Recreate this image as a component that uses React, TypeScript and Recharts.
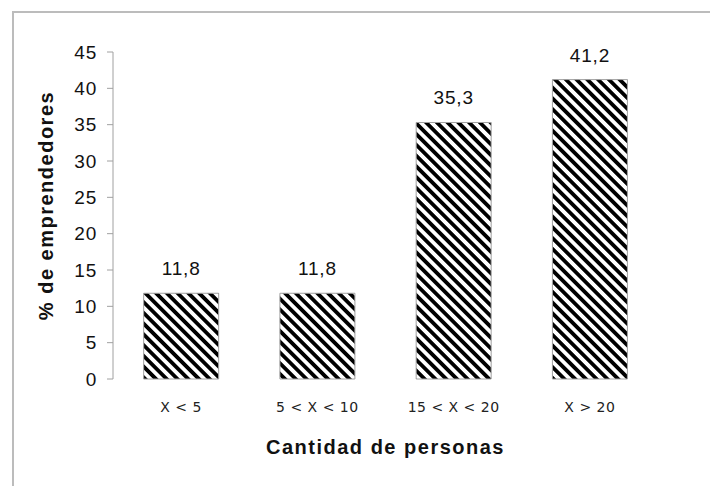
import { BarChart, Bar, XAxis, YAxis, LabelList } from 'recharts';

const categories = ['X < 5', '5 < X < 10', '15 < X < 20', 'X > 20'];
const percentages = [11.8, 11.8, 35.3, 41.2];
const yTicks = [0, 5, 10, 15, 20, 25, 30, 35, 40, 45];
const boundaryTicks = [0, 1, 2, 3, 4];

const data = categories.map((name, i) => ({ name, value: percentages[i] }));

const formatComma = (v: number) => v.toFixed(1).replace('.', ',');

export default function App() {
  return (
    <div style={{ position: 'fixed', left: 0, top: 0, width: 710, height: 486, background: '#fff' }}>
      <div
        style={{
          position: 'absolute',
          left: 12,
          top: 11,
          right: 0,
          bottom: 0,
          borderLeft: '2px solid #bcbcbc',
          borderTop: '2px solid #bcbcbc',
        }}
      />
      <div style={{ position: 'absolute', left: 0, top: 0 }}>
        <BarChart
          width={710}
          height={486}
          data={data}
          margin={{ top: 52, right: 52, left: 0, bottom: 0 }}
          barCategoryGap="22.5%"
        >
          <defs>
            <pattern id="hatch" patternUnits="userSpaceOnUse" width="7.6" height="7.6" patternTransform="rotate(-45)">
              <rect width="7.6" height="7.6" fill="#fff" />
              <rect width="3.8" height="7.6" fill="#000" />
            </pattern>
          </defs>
          <XAxis
            xAxisId="edges"
            type="number"
            domain={[0, 4]}
            ticks={boundaryTicks}
            tick={false}
            height={0}
            tickSize={5}
            axisLine={{ stroke: '#a0a0a0' }}
            tickLine={{ stroke: '#a0a0a0' }}
          />
          <XAxis
            xAxisId="cat"
            dataKey="name"
            height={107}
            axisLine={false}
            tickLine={false}
            tickSize={0}
            tickMargin={23}
            tick={{ fill: '#222', fontSize: 14, fontFamily: 'DejaVu Sans', letterSpacing: 0.5 }}
            label={{
              value: 'Cantidad de personas',
              position: 'insideBottom',
              offset: 32,
              fill: '#111',
              fontSize: 20,
              fontWeight: 'bold',
              letterSpacing: 1.5,
              fontFamily: 'Liberation Sans',
            }}
          />
          <YAxis
            width={113}
            domain={[0, 45]}
            ticks={yTicks}
            interval={0}
            tickSize={6}
            tickMargin={10}
            axisLine={{ stroke: '#a0a0a0' }}
            tickLine={{ stroke: '#a0a0a0' }}
            tick={{ fill: '#111', fontSize: 19, letterSpacing: 0.8, fontFamily: 'Liberation Sans' }}
            label={{
              value: '% de emprendedores',
              angle: -90,
              position: 'center',
              dx: -11,
              dy: -10,
              fill: '#111',
              fontSize: 20,
              fontWeight: 'bold',
              letterSpacing: 1.5,
              fontFamily: 'Liberation Sans',
            }}
          />
          <Bar
            xAxisId="cat"
            dataKey="value"
            fill="url(#hatch)"
            stroke="#a0a0a0"
            strokeWidth={1}
            isAnimationActive={false}
          >
            <LabelList
              dataKey="value"
              position="top"
              offset={18}
              formatter={(v: number) => formatComma(v)}
              style={{ fill: '#111', fontSize: 19, letterSpacing: 0.8, fontFamily: 'Liberation Sans' }}
            />
          </Bar>
        </BarChart>
      </div>
    </div>
  );
}
